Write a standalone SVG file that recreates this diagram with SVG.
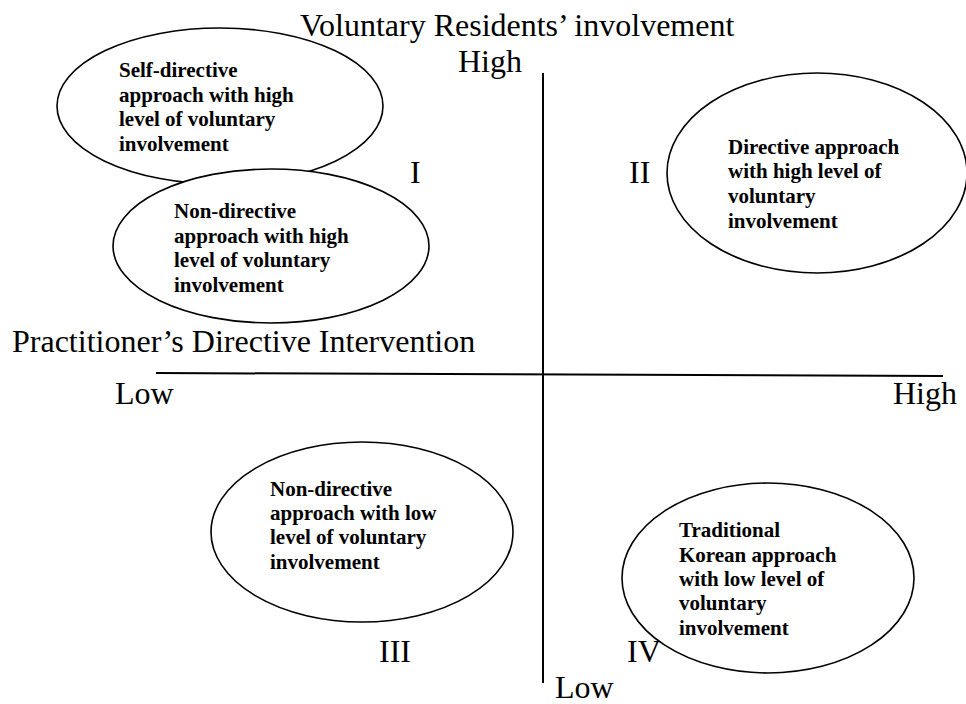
<svg xmlns="http://www.w3.org/2000/svg" width="966" height="704" viewBox="0 0 966 704">
<style>
.ax{stroke:#000;stroke-width:2;fill:none}
.el{stroke:#000;stroke-width:1.6;fill:#fff}
.lbl{font-family:"Liberation Serif","Times New Roman",serif;font-size:32px;fill:#000}
.nt{font-family:"Liberation Serif","Times New Roman",serif;font-size:21px;font-weight:bold;fill:#000}
</style>
<rect width="966" height="704" fill="#fff"/>
<g id="axes">
<line class="ax" x1="543" y1="73" x2="543" y2="683"/>
<line class="ax" x1="156" y1="373" x2="943" y2="376"/>
</g>
<g id="labels">
<text class="lbl" x="300" y="36">Voluntary Residents’ involvement</text>
<text class="lbl" x="458" y="72">High</text>
<text class="lbl" x="12" y="352">Practitioner’s Directive Intervention</text>
<text class="lbl" x="115" y="404">Low</text>
<text class="lbl" x="893" y="404">High</text>
<text class="lbl" x="555" y="698">Low</text>
<text class="lbl" x="410" y="183">I</text>
<text class="lbl" x="629" y="183">II</text>
<text class="lbl" x="379" y="662">III</text>
<text class="lbl" x="627" y="662">IV</text>
</g>
<g id="node-self-directive">
<ellipse class="el" cx="220" cy="106" rx="163" ry="78"/>
<text class="nt" x="119" y="77">Self-directive</text>
<text class="nt" x="119" y="102">approach with high</text>
<text class="nt" x="119" y="126">level of voluntary</text>
<text class="nt" x="119" y="151">involvement</text>
</g>
<g id="node-non-directive-high">
<ellipse class="el" cx="271" cy="246" rx="158" ry="77"/>
<text class="nt" x="174" y="218">Non-directive</text>
<text class="nt" x="174" y="243">approach with high</text>
<text class="nt" x="174" y="267">level of voluntary</text>
<text class="nt" x="174" y="292">involvement</text>
</g>
<g id="node-directive-high">
<ellipse class="el" cx="817" cy="173" rx="150" ry="100"/>
<text class="nt" x="728" y="154">Directive approach</text>
<text class="nt" x="728" y="178">with high level of</text>
<text class="nt" x="728" y="203">voluntary</text>
<text class="nt" x="728" y="228">involvement</text>
</g>
<g id="node-non-directive-low">
<ellipse class="el" cx="362" cy="532" rx="151" ry="90"/>
<text class="nt" x="270" y="496">Non-directive</text>
<text class="nt" x="270" y="520">approach with low</text>
<text class="nt" x="270" y="544">level of voluntary</text>
<text class="nt" x="270" y="569">involvement</text>
</g>
<g id="node-traditional-korean">
<ellipse class="el" cx="768" cy="578" rx="146" ry="95" style="fill:none"/>
<text class="nt" x="679" y="537">Traditional</text>
<text class="nt" x="679" y="562">Korean approach</text>
<text class="nt" x="679" y="586">with low level of</text>
<text class="nt" x="679" y="610">voluntary</text>
<text class="nt" x="679" y="635">involvement</text>
</g>
</svg>
